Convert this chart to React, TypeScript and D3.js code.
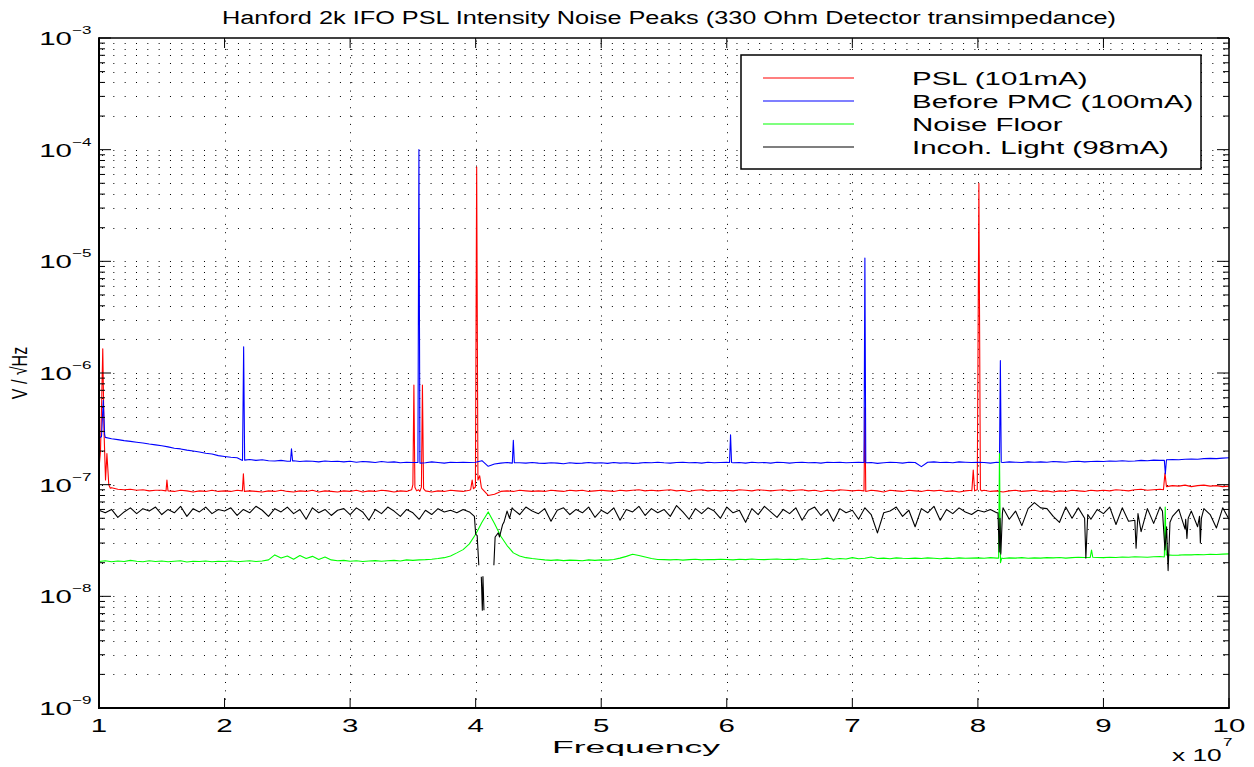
import { useMemo } from "react";
import * as d3 from "d3";

type Pt = [number, number | null];

const W = 1254;
const H = 767;
const UNIT = 1e-8; // all series values below are in units of 1e-8 V/rtHz
const F_START = 1; // x1e7 Hz
const F_STEP = 0.05;

const seriesNames = ["PSL (101mA)", "Before PMC (100mA)", "Noise Floor", "Incoh. Light (98mA)"];
const seriesColors = ["#ff0000", "#0000ff", "#00ff00", "#000000"];
const xTickLabels = ["1", "2", "3", "4", "5", "6", "7", "8", "9", "10"];
const yExponents = [-9, -8, -7, -6, -5, -4, -3];

// baselines on the 0.05 grid, 1.00 .. 10.00
const pslBase = [
  14, 10, 9.4, 9.1, 9.0, 9.1, 8.9, 9.0, 8.8, 8.9,
  8.9, 8.8, 8.7, 8.9, 8.8, 8.6, 8.8, 8.7, 8.9, 8.7,
  8.8, 8.7, 8.9, 8.6, 8.8, 8.7, 8.6, 8.8, 8.7, 8.9,
  8.7, 8.6, 8.8, 8.7, 8.9, 8.6, 8.8, 8.7, 8.6, 8.8,
  8.7, 8.9, 8.6, 8.8, 8.7, 8.9, 8.8, 8.6, 8.8, 8.7,
  8.6, 8.8, 8.7, 8.6, 8.8, 8.7, 8.9, 8.8, 8.7, 8.9,
  9.0, 9.2, 8.0, 8.2, 8.7, 8.8, 8.7, 8.9, 8.8, 8.7,
  8.8, 8.7, 8.9, 8.8, 8.7, 8.9, 8.8, 8.9, 8.7, 8.8,
  8.9, 8.8, 8.7, 8.9, 8.8, 8.9, 9.0, 8.8, 8.9, 8.8,
  8.9, 9.0, 8.8, 8.9, 8.7, 8.9, 9.0, 8.8, 8.9, 8.8,
  8.9, 8.8, 9.0, 8.9, 8.8, 9.0, 8.9, 8.8, 8.9, 9.0,
  8.8, 8.9, 9.0, 8.8, 8.9, 8.7, 8.9, 8.8, 9.0, 8.9,
  8.8, 8.9, 8.7, 8.9, 8.8, 8.6, 8.9, 8.8, 8.7, 8.9,
  8.8, 8.7, 8.9, 8.8, 8.9, 8.7, 8.8, 8.6, 8.8, 8.9,
  8.8, 8.9, 8.7, 8.8, 8.6, 8.8, 8.9, 8.7, 8.8, 8.9,
  8.7, 8.8, 8.6, 8.8, 8.7, 8.9, 8.8, 8.7, 8.9, 8.8,
  8.9, 8.8, 9.0, 8.9, 8.8, 9.0, 9.1, 8.9, 9.0, 9.1,
  9.3, 9.8, 9.7, 9.9, 9.6, 9.8, 9.9, 9.7, 9.8, 9.6,
  9.7,
];

const pmcBase = [
  27, 26.5, 25.8, 25.3, 24.8, 24.4, 24.0, 23.6, 23.1, 22.7,
  22.3, 21.8, 21.2, 20.9, 20.4, 20.0, 19.6, 19.1, 18.8, 18.2,
  17.9, 17.6, 17.4, 17.0, 16.8, 16.5, 16.7, 16.4, 16.3, 16.5,
  16.2, 16.4, 16.1, 16.3, 16.2, 16.0, 16.3, 16.1, 16.2, 16.0,
  16.2, 15.9, 16.1, 16.0, 15.8, 16.1, 15.9, 16.0, 15.7, 15.9,
  15.8, 15.9, 15.7, 16.0, 15.8, 15.6, 15.9, 15.8, 15.9, 15.8,
  15.9, 16.4, 14.6, 15.3, 15.6, 15.8, 15.5, 15.7, 15.6, 15.8,
  15.6, 15.5, 15.7, 15.6, 15.4, 15.7, 15.5, 15.6, 15.8, 15.6,
  15.7, 15.5, 15.8, 15.6, 15.7, 15.5, 15.6, 15.8, 15.7, 15.9,
  15.7, 15.6, 15.8, 15.9, 15.7, 15.8, 15.6, 15.9, 15.7, 15.8,
  15.9, 15.7, 15.8, 15.6, 15.9, 15.7, 15.8, 15.6, 15.9, 15.8,
  15.6, 15.8, 15.9, 15.7, 15.8, 15.6, 15.9, 15.8, 15.9, 15.7,
  15.8, 15.9, 15.7, 15.8, 15.5, 15.7, 15.9, 15.8, 15.6, 15.9,
  15.8, 14.5, 15.9, 16.0, 15.8, 15.9, 15.7, 16.0, 15.9, 15.8,
  15.9, 15.8, 15.6, 15.9, 15.8, 16.0, 15.9, 15.8, 16.0, 15.9,
  16.0, 15.9, 16.1, 16.0, 15.9, 16.1, 16.2, 16.0, 16.1, 16.2,
  16.1, 16.3, 16.2, 16.4, 16.2, 16.3, 16.5, 16.4, 16.6, 16.5,
  16.6, 16.8, 16.7, 16.9, 17.0, 16.9, 17.1, 17.2, 17.1, 17.3,
  17.4,
];

const floorBase = [
  2.05, 2.08, 2.04, 2.07, 2.05, 2.10, 2.06, 2.04, 2.08, 2.05,
  2.07, 2.04, 2.06, 2.08, 2.03, 2.06, 2.05, 2.07, 2.04, 2.06,
  2.05, 2.07, 2.04, 2.06, 2.08, 2.05, 2.07, 2.12, 2.35, 2.20,
  2.30, 2.15, 2.32, 2.18, 2.28, 2.14, 2.25, 2.12, 2.08, 2.10,
  2.06, 2.08, 2.05, 2.07, 2.09, 2.06, 2.08, 2.10, 2.07, 2.12,
  2.10, 2.12, 2.13, 2.15, 2.18, 2.22, 2.30, 2.45, 2.62, 2.95,
  3.60, 4.60, 5.70, 4.50, 3.45, 2.85, 2.45, 2.30, 2.22, 2.18,
  2.15, 2.12, 2.10, 2.12, 2.09, 2.11, 2.10, 2.08, 2.12, 2.10,
  2.12, 2.11, 2.14, 2.20, 2.28, 2.38, 2.32, 2.25, 2.18, 2.14,
  2.13, 2.12, 2.14, 2.11, 2.13, 2.15, 2.12, 2.14, 2.13, 2.15,
  2.14, 2.12, 2.15, 2.13, 2.16, 2.14, 2.13, 2.15, 2.16, 2.14,
  2.15, 2.13, 2.17, 2.15, 2.14, 2.16, 2.20, 2.15, 2.18, 2.16,
  2.22, 2.17, 2.19, 2.25, 2.18, 2.20, 2.17, 2.21, 2.19, 2.18,
  2.20, 2.18, 2.21, 2.19, 2.17, 2.20, 2.18, 2.21, 2.19, 2.20,
  2.21, 2.19, 2.22, 2.20, 2.18, 2.21, 2.20, 2.22, 2.19, 2.21,
  2.20, 2.22, 2.21, 2.23, 2.20, 2.22, 2.24, 2.23, 2.22, 2.23,
  2.22, 2.24, 2.23, 2.25, 2.24, 2.26, 2.25, 2.24, 2.26, 2.27,
  2.35, 2.33, 2.34, 2.36, 2.35, 2.37, 2.36, 2.38, 2.37, 2.39,
  2.40,
];

const incohBase = [
  5.9, 5.6, 6.0, 5.1, 5.7, 6.2, 5.5, 6.1, 5.8, 6.3,
  5.4, 6.0, 5.6, 6.4, 5.2, 6.1, 5.7, 6.3, 5.5, 6.0,
  5.8, 6.2, 5.3, 6.0, 5.6, 6.4, 5.9, 5.2, 6.1, 5.7,
  6.3, 5.5, 6.0, 4.9, 6.2, 5.6, 6.0, 5.3, 5.9, 6.1,
  5.4, 6.2, 5.7, 4.8, 6.0, 5.5, 6.3, 5.8, 5.2, 6.0,
  5.6, 4.9, 5.9, 5.4, 6.1, 5.7, 5.9, 5.6, 6.0, 5.7,
  5.0, 4.0, 2.0, 3.5, 4.6, 5.8, 6.0, 5.4, 6.3, 5.8,
  5.5, 6.1, 4.7, 5.9, 6.2, 5.4, 6.0, 5.6, 6.3, 5.1,
  5.9, 5.5, 6.2, 4.8, 6.0, 5.7, 6.4, 5.3, 6.1, 5.6,
  6.0, 5.2, 6.5, 5.7, 4.9, 6.1, 5.5, 6.2, 5.8, 5.0,
  6.3, 5.6, 5.9, 4.6, 6.1, 5.4, 6.4, 5.7, 5.1, 6.0,
  5.5, 6.2, 4.8, 5.9, 6.3, 5.3, 6.0, 4.7, 6.1, 5.6,
  5.9, 4.9, 6.2, 5.4, 3.7, 5.6, 5.8, 6.3, 5.2, 5.9,
  4.2, 6.1, 5.6, 6.4, 4.8, 6.0, 5.5, 6.2, 5.7, 5.4,
  5.9, 5.7, 6.0, 5.6, 6.2, 4.9, 5.8, 4.3, 6.1, 6.9,
  6.2, 6.1, 5.2, 4.6, 6.3, 5.0, 6.2, 5.8, 4.9, 6.0,
  5.5, 6.3, 4.4, 6.2, 4.7, 6.4, 3.8, 6.1, 4.5, 6.3,
  4.3, 5.2, 6.0, 4.0, 5.8, 4.2, 6.1, 5.4, 4.1, 6.2,
  4.9,
];

// narrow features: [frequency x1e7, value] ; null = gap in trace
const pslPeaks: Pt[][] = [
  [[1.0, 14], [1.012, 20], [1.022, 60], [1.03, 165], [1.04, 30], [1.052, 11], [1.063, 19], [1.078, 10], [1.09, 9.3]],
  [[1.534, 8.8], [1.541, 11], [1.549, 8.9]],
  [[2.142, 8.8], [2.15, 12.5], [2.158, 8.7]],
  [[3.49, 9.0], [3.5, 10], [3.508, 78], [3.516, 9.5], [3.53, 8.8], [3.545, 9], [3.555, 8.7], [3.568, 9.5], [3.576, 78], [3.585, 9.2], [3.6, 8.8]],
  [[3.96, 9.0], [3.972, 11], [3.982, 9.2], [3.998, 9.5], [4.008, 7000], [4.018, 11], [4.032, 12], [4.045, 9.5]],
  [[7.093, 8.8], [7.1, 49], [7.107, 8.7]],
  [[7.952, 8.8], [7.963, 13.5], [7.974, 8.8], [7.995, 9], [8.008, 5000], [8.02, 9], [8.03, 8.8]],
  [[9.478, 9.0], [9.49, 12.7], [9.502, 9.6]],
];

const pmcPeaks: Pt[][] = [
  [[1.0, 26], [1.02, 27], [1.034, 57], [1.045, 28]],
  [[2.143, 16.5], [2.152, 172], [2.16, 16.6]],
  [[2.525, 16.2], [2.533, 21], [2.542, 16.3]],
  [[3.54, 15.8], [3.548, 10000], [3.556, 15.6]],
  [[4.292, 15.6], [4.3, 25], [4.308, 15.7]],
  [[6.022, 15.8], [6.03, 28], [6.038, 15.8]],
  [[7.093, 15.8], [7.1, 1070], [7.107, 15.7]],
  [[8.172, 15.8], [8.179, 129], [8.186, 15.9]],
  [[9.485, 16.5], [9.493, 12.5], [9.502, 16.7]],
];

const floorPeaks: Pt[][] = [
  [[8.165, 2.2], [8.172, 19], [8.18, 2.0], [8.19, 2.2]],
  [[8.895, 2.23], [8.905, 2.6], [8.915, 2.24]],
  [[9.485, 2.25], [9.492, 6.3], [9.5, 2.35]],
];

const incohPeaks: Pt[][] = [
  [[3.99, 5.2], [4.0, 3.6], [4.012, 3.5], [4.025, 1.9], [4.03, null], [4.045, 1.5], [4.053, 0.75], [4.058, 1.5], [4.066, 0.75], [4.08, null],
   [4.145, 1.9], [4.155, 3.4], [4.18, 3.7], [4.19, 3.4], [4.215, 4.4], [4.225, 4.6], [4.25, 5.8], [4.27, 5.0], [4.29, 6.2]],
  [[8.16, 5.6], [8.17, 2.5], [8.176, 5.0], [8.183, 2.4], [8.195, 5.5]],
  [[8.85, 5.0], [8.86, 2.2], [8.875, 5.4]],
  [[9.25, 4.8], [9.26, 2.7], [9.275, 5.5]],
  [[9.47, 5.8], [9.49, 2.6], [9.503, 4.2], [9.515, 1.7], [9.53, 4.6]],
  [[9.655, 4.9], [9.665, 3.3], [9.675, 5.0]],
  [[9.765, 5.2], [9.772, 3.0], [9.78, 5.0]],
];

const FONT = "'Liberation Sans', Arial, Helvetica, sans-serif";
const SX = 1.55; // the original figure is stretched horizontally

function buildSeries(base: number[], peaks: Pt[][]): Pt[] {
  const spans = peaks.map((c) => [c[0][0], c[c.length - 1][0]]);
  const pts: Pt[] = base
    .map((v, i) => [+(F_START + i * F_STEP).toFixed(2), v] as Pt)
    .filter(([f]) => !spans.some(([a, b]) => f >= a && f <= b));
  peaks.forEach((c) => pts.push(...c));
  return pts.sort((a, b) => a[0] - b[0]);
}

function Txt({
  x,
  y,
  size,
  anchor = "start",
  children,
}: {
  x: number;
  y: number;
  size: number;
  anchor?: string;
  children: any;
}) {
  return (
    <text
      transform={`translate(${x},${y}) scale(${SX},1)`}
      fontSize={size}
      textAnchor={anchor}
      fontFamily={FONT}
      fill="#000"
    >
      {children}
    </text>
  );
}

export default function App() {
  const left = 99;
  const right = 1229;
  const top = 38;
  const bottom = 708;

  const x = d3.scaleLinear().domain([1, 10]).range([left, right]);
  const y = d3.scaleLog().domain([1e-9, 1e-3]).range([bottom, top]);

  const series = useMemo(
    () => [
      buildSeries(pslBase, pslPeaks),
      buildSeries(pmcBase, pmcPeaks),
      buildSeries(floorBase, floorPeaks),
      buildSeries(incohBase, incohPeaks),
    ],
    []
  );

  const line = d3
    .line<Pt>()
    .defined((d) => d[1] != null)
    .x((d) => x(d[0]))
    .y((d) => y((d[1] as number) * UNIT));

  const yTicks = y.ticks();
  const majors = yExponents.map((e) => Math.pow(10, e));
  const isMajor = (v: number) => majors.some((m) => Math.abs(v / m - 1) < 1e-6);
  const xTicks = x.ticks(9);

  const legendX = 741;
  const legendY = 55;
  const rowH = 23;

  return (
    <svg
      width={W}
      height={H}
      style={{ position: "absolute", left: 0, top: 0, background: "#fff" }}
    >
      <rect x={0} y={0} width={W} height={H} fill="#fff" />

      {/* grid */}
      <g stroke="#000" strokeWidth={1} fill="none">
        {yTicks
          .filter((v) => y(v) > top + 1 && y(v) < bottom - 1)
          .map((v, i) => (
            <line
              key={`hg${i}`}
              x1={left}
              x2={right}
              y1={Math.round(y(v)) + 0.5}
              y2={Math.round(y(v)) + 0.5}
              strokeDasharray="1,10.33"
              strokeDashoffset={-3}
            />
          ))}
        {xTicks
          .filter((v) => v > 1 && v < 10)
          .map((v) => (
            <line
              key={`vg${v}`}
              x1={Math.round(x(v)) + 0.5}
              x2={Math.round(x(v)) + 0.5}
              y1={bottom}
              y2={top}
              strokeDasharray="1,7.33"
            />
          ))}
      </g>

      {/* traces */}
      <g fill="none" strokeWidth={1.1} strokeLinejoin="round">
        {series.map((s, i) => (
          <path key={i} d={line(s) ?? ""} stroke={seriesColors[i]} />
        ))}
      </g>

      {/* ticks */}
      <g stroke="#000" strokeWidth={1}>
        {xTicks.map((v) => (
          <g key={`xt${v}`}>
            <line x1={x(v)} x2={x(v)} y1={bottom} y2={bottom - 10} />
            <line x1={x(v)} x2={x(v)} y1={top} y2={top + 10} />
          </g>
        ))}
        {yTicks.map((v, i) => {
          const len = isMajor(v) ? 12 : 6;
          return (
            <g key={`yt${i}`}>
              <line x1={left} x2={left + len} y1={y(v)} y2={y(v)} />
              <line x1={right} x2={right - len} y1={y(v)} y2={y(v)} />
            </g>
          );
        })}
      </g>

      {/* axes box */}
      <g stroke="#000" fill="none">
        <line x1={left} x2={right} y1={top} y2={top} strokeWidth={1.5} />
        <line x1={right} x2={right} y1={top} y2={bottom} strokeWidth={1.5} />
        <line x1={left} x2={left} y1={top - 0.75} y2={bottom + 1} strokeWidth={2} />
        <line x1={left - 1} x2={right + 0.75} y1={bottom} y2={bottom} strokeWidth={2} />
      </g>

      {/* y tick labels */}
      {yExponents.map((e) => {
        const ty = y(Math.pow(10, e));
        return (
          <g key={`yl${e}`}>
            <Txt x={72} y={ty + 7} size={19} anchor="end">
              10
            </Txt>
            <Txt x={72} y={ty - 4} size={11}>
              {`\u2212${Math.abs(e)}`}
            </Txt>
          </g>
        );
      })}

      {/* x tick labels */}
      {xTicks.map((v, i) => (
        <Txt key={`xl${v}`} x={x(v)} y={732} size={19} anchor="middle">
          {xTickLabels[i]}
        </Txt>
      ))}
      <Txt x={1172} y={761} size={17}>
        x 10
      </Txt>
      <Txt x={1223} y={746} size={11}>
        7
      </Txt>

      {/* axis labels and title */}
      <text
        x={636}
        y={753}
        fontSize={17}
        textAnchor="middle"
        fontFamily={FONT}
        textLength={168}
        lengthAdjust="spacingAndGlyphs"
      >
        Frequency
      </text>
      <text
        transform={`translate(27,${(top + bottom) / 2}) scale(1.4,1) rotate(-90)`}
        fontSize={16}
        textAnchor="middle"
        fontFamily={FONT}
      >
        V / √Hz
      </text>
      <text
        x={669}
        y={24}
        fontSize={18}
        textAnchor="middle"
        fontFamily={FONT}
        textLength={894}
        lengthAdjust="spacingAndGlyphs"
      >
        Hanford 2k IFO PSL Intensity Noise Peaks (330 Ohm Detector transimpedance)
      </text>

      {/* legend */}
      <rect
        x={legendX}
        y={legendY}
        width={460}
        height={114}
        fill="#fff"
        stroke="#000"
        strokeWidth={1.5}
      />
      {seriesNames.map((name, i) => {
        const ry = legendY + 23 + i * rowH;
        return (
          <g key={name}>
            <line x1={763} x2={854} y1={ry} y2={ry} stroke={seriesColors[i]} strokeWidth={1.2} />
            <Txt x={912} y={ry + 7} size={19}>
              {name}
            </Txt>
          </g>
        );
      })}
    </svg>
  );
}
